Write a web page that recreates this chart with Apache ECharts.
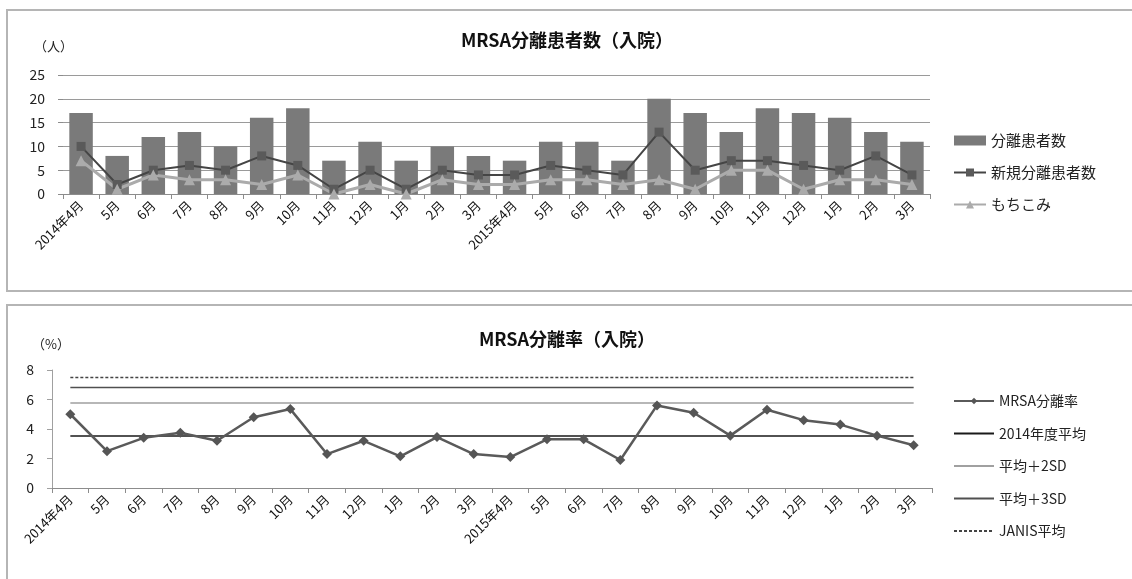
<!DOCTYPE html>
<html>
<head>
<meta charset="utf-8">
<script src="https://cdn.jsdelivr.net/npm/echarts@6/dist/echarts.min.js"></script>
<style>
  html, body { margin: 0; padding: 0; background: #fff; }
  #chart { width: 1132px; height: 579px; }
</style>
</head>
<body>
<div id="chart"></div>
<script>
// Month labels (April 2014 – March 2016)
const months = ['2014年4月','5月','6月','7月','8月','9月','10月','11月','12月','1月','2月','3月',
                '2015年4月','5月','6月','7月','8月','9月','10月','11月','12月','1月','2月','3月'];

// Inpatient MRSA isolation counts (persons)
const isolated = [17, 8, 12, 13, 10, 16, 18, 7, 11, 7, 10, 8, 7, 11, 11, 7, 20, 17, 13, 18, 17, 16, 13, 11];
const newCases = [10, 2, 5, 6, 5, 8, 6, 1, 5, 1, 5, 4, 4, 6, 5, 4, 13, 5, 7, 7, 6, 5, 8, 4];
const broughtIn = [7, 1, 4, 3, 3, 2, 4, 0, 2, 0, 3, 2, 2, 3, 3, 2, 3, 1, 5, 5, 1, 3, 3, 2];

// Inpatient MRSA isolation rate (%)
const mrsaRate = [5.0, 2.5, 3.4, 3.75, 3.2, 4.8, 5.35, 2.3, 3.2, 2.15, 3.45, 2.3,
                  2.1, 3.3, 3.3, 1.9, 5.6, 5.1, 3.55, 5.3, 4.6, 4.3, 3.55, 2.9];
const fy2014Mean = 3.53;
const meanPlus2SD = 5.77;
const meanPlus3SD = 6.82;
const janisMean = 7.5;

const countTicks = { min: 0, max: 25, interval: 5 };
const rateTicks = { min: 0, max: 8, interval: 2 };

const FONT = '"Noto Sans CJK JP", "Noto Sans", sans-serif';
const flat = v => months.map(() => v);

const chart = echarts.init(document.getElementById('chart'), null, { renderer: 'canvas' });

const xLabel = {
  interval: 0, rotate: 45, fontSize: 13, color: '#111', fontFamily: FONT, margin: 9
};

// reference lines show as plain strokes in the legend
const plainLine = name => ({ name, itemStyle: { opacity: 0 } });

chart.setOption({
  backgroundColor: '#fff',
  animation: false,
  graphic: [
    { type: 'rect', shape: { x: 7, y: 10, width: 1140, height: 281 },
      style: { fill: 'none', stroke: '#b5b5b5', lineWidth: 2 } },
    { type: 'rect', shape: { x: 7, y: 305, width: 1140, height: 290 },
      style: { fill: 'none', stroke: '#b5b5b5', lineWidth: 2 } },
    { type: 'text', left: 34, top: 40,
      style: { text: '（人）', font: '13px ' + FONT, fill: '#222' } },
    { type: 'text', left: 32, top: 338,
      style: { text: '（%）', font: '13px ' + FONT, fill: '#222' } }
  ],
  title: [
    { text: 'MRSA分離患者数（入院）', left: 562, top: 26, textAlign: 'center',
      textStyle: { fontSize: 18, fontWeight: 'bold', color: '#111', fontFamily: FONT } },
    { text: 'MRSA分離率（入院）', left: 562, top: 325, textAlign: 'center',
      textStyle: { fontSize: 18, fontWeight: 'bold', color: '#111', fontFamily: FONT } }
  ],
  legend: [
    {
      orient: 'vertical', left: 948, top: 128, itemGap: 17,
      itemWidth: 32, itemHeight: 10,
      textStyle: { fontSize: 15, color: '#222', fontFamily: FONT },
      data: [
        { name: '分離患者数', icon: 'rect', itemStyle: { color: '#7a7a7a' } },
        { name: '新規分離患者数' },
        { name: 'もちこみ' }
      ]
    },
    {
      orient: 'vertical', left: 948, top: 389, itemGap: 18.5,
      itemWidth: 40, itemHeight: 8,
      textStyle: { fontSize: 14, color: '#222', fontFamily: FONT },
      data: [
        'MRSA分離率',
        plainLine('2014年度平均'),
        plainLine('平均＋2SD'),
        plainLine('平均＋3SD'),
        plainLine('JANIS平均')
      ]
    }
  ],
  grid: [
    { left: 63, right: 202, top: 75, height: 119, containLabel: false },
    { left: 52, right: 200, top: 370, height: 118, containLabel: false }
  ],
  xAxis: [
    {
      gridIndex: 0, type: 'category', data: months, boundaryGap: true,
      axisLine: { lineStyle: { color: '#8c8c8c', width: 1 } },
      axisTick: { show: true, length: 5, lineStyle: { color: '#8c8c8c' } },
      axisLabel: xLabel
    },
    {
      gridIndex: 1, type: 'category', data: months, boundaryGap: true,
      axisLine: { lineStyle: { color: '#8c8c8c', width: 1 } },
      axisTick: { show: true, length: 5, lineStyle: { color: '#8c8c8c' } },
      axisLabel: xLabel
    }
  ],
  yAxis: [
    {
      gridIndex: 0, type: 'value', min: countTicks.min, max: countTicks.max, interval: countTicks.interval,
      axisLine: { show: false },
      axisTick: { show: true, length: 5, lineStyle: { color: '#8c8c8c' } },
      splitLine: { show: true, lineStyle: { color: '#9a9a9a', width: 1.2 } },
      axisLabel: { fontSize: 14, color: '#222', fontFamily: FONT, margin: 18 }
    },
    {
      gridIndex: 1, type: 'value', min: rateTicks.min, max: rateTicks.max, interval: rateTicks.interval,
      axisLine: { show: true, lineStyle: { color: '#a0a0a0', width: 1 } },
      axisTick: { show: true, length: 5, lineStyle: { color: '#a0a0a0' } },
      splitLine: { show: false },
      axisLabel: { fontSize: 14, color: '#222', fontFamily: FONT, margin: 18 }
    }
  ],
  series: [
    {
      name: '分離患者数', type: 'bar', xAxisIndex: 0, yAxisIndex: 0,
      data: isolated, barCategoryGap: '35%',
      itemStyle: { color: '#7a7a7a' }
    },
    {
      name: '新規分離患者数', type: 'line', xAxisIndex: 0, yAxisIndex: 0,
      data: newCases, symbol: 'rect', symbolSize: 9,
      lineStyle: { color: '#454545', width: 2 },
      itemStyle: { color: '#5a5a5a' }
    },
    {
      name: 'もちこみ', type: 'line', xAxisIndex: 0, yAxisIndex: 0,
      data: broughtIn, symbol: 'triangle', symbolSize: 11,
      lineStyle: { color: '#ababab', width: 3 },
      itemStyle: { color: '#ababab' }
    },
    {
      name: 'MRSA分離率', type: 'line', xAxisIndex: 1, yAxisIndex: 1,
      data: mrsaRate, symbol: 'diamond', symbolSize: 10, z: 5,
      lineStyle: { color: '#5a5a5a', width: 2.5 },
      itemStyle: { color: '#555' }
    },
    {
      name: '2014年度平均', type: 'line', xAxisIndex: 1, yAxisIndex: 1,
      data: flat(fy2014Mean), symbol: 'none', z: 3,
      lineStyle: { color: '#1a1a1a', width: 1.5 },
      itemStyle: { color: '#1a1a1a' }
    },
    {
      name: '平均＋2SD', type: 'line', xAxisIndex: 1, yAxisIndex: 1,
      data: flat(meanPlus2SD), symbol: 'none', z: 3,
      lineStyle: { color: '#a0a0a0', width: 1.5 },
      itemStyle: { color: '#a0a0a0' }
    },
    {
      name: '平均＋3SD', type: 'line', xAxisIndex: 1, yAxisIndex: 1,
      data: flat(meanPlus3SD), symbol: 'none', z: 3,
      lineStyle: { color: '#505050', width: 1.5 },
      itemStyle: { color: '#505050' }
    },
    {
      name: 'JANIS平均', type: 'line', xAxisIndex: 1, yAxisIndex: 1,
      data: flat(janisMean), symbol: 'none', z: 3,
      lineStyle: { color: '#444', width: 1.5, type: [3, 2] },
      itemStyle: { color: '#444' }
    }
  ]
});
</script>
</body>
</html>
